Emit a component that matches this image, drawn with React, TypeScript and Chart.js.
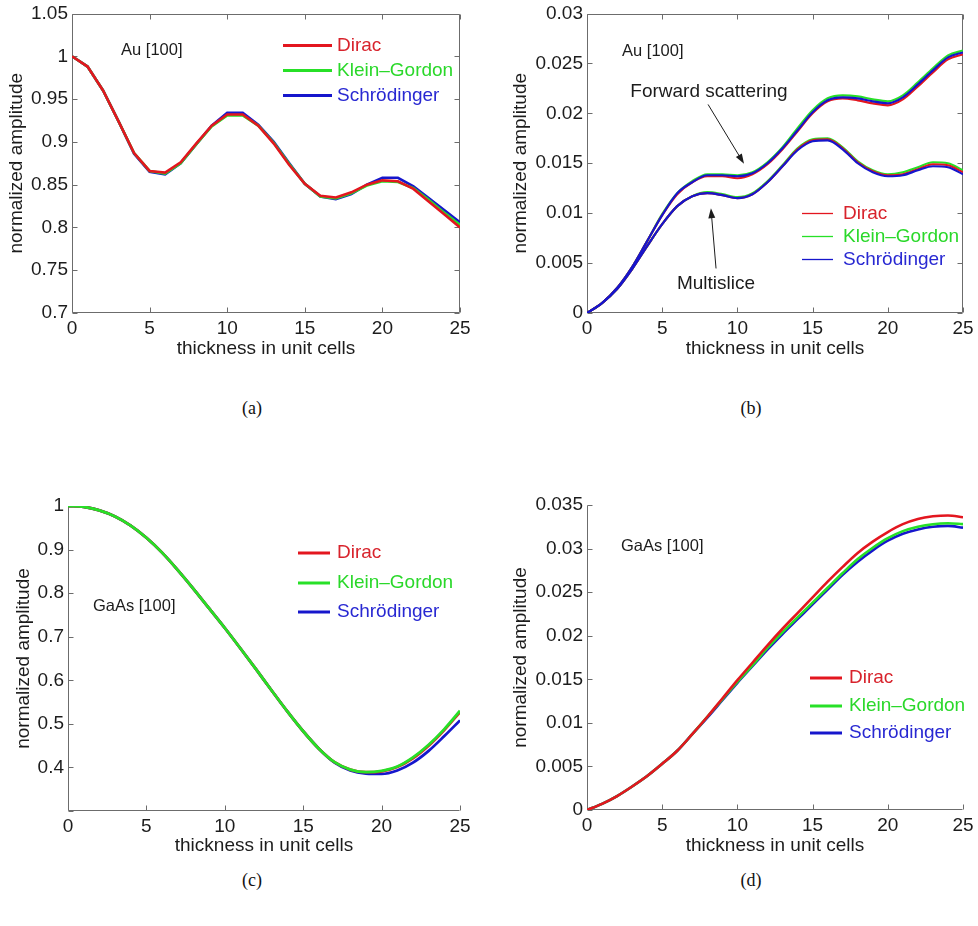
import React, { useEffect, useRef } from 'react';
import { Chart, registerables } from 'chart.js';

Chart.register(...registerables);

const FONT = '"Liberation Sans", Arial, Helvetica, sans-serif';

// ---------------- data ----------------
const THICKNESS = [0, 1, 2, 3, 4, 5, 6, 7, 8, 9, 10, 11, 12, 13, 14, 15, 16, 17, 18, 19, 20, 21, 22, 23, 24, 25];
const LEGEND_LABELS = ['Dirac', 'Klein\u2013Gordon', 'Schr\u00f6dinger'];
const X_TICK_STEP = 5;

// (a) Au [100], central beam
const A_DIRAC = [1.000, 0.988, 0.960, 0.924, 0.887, 0.866, 0.864, 0.876, 0.898, 0.919, 0.932, 0.932, 0.919, 0.898, 0.873, 0.851, 0.837, 0.835, 0.841, 0.850, 0.855, 0.854, 0.845, 0.830, 0.815, 0.800];
const A_KG = [1.000, 0.988, 0.960, 0.924, 0.887, 0.866, 0.863, 0.875, 0.897, 0.918, 0.931, 0.931, 0.919, 0.899, 0.874, 0.851, 0.836, 0.834, 0.840, 0.849, 0.854, 0.853, 0.846, 0.832, 0.817, 0.803];
const A_SCH = [1.000, 0.988, 0.960, 0.924, 0.886, 0.865, 0.862, 0.875, 0.897, 0.919, 0.934, 0.934, 0.920, 0.900, 0.875, 0.851, 0.836, 0.833, 0.839, 0.850, 0.858, 0.858, 0.848, 0.834, 0.820, 0.806];
const A_Y_RANGE = [0.7, 1.05, 0.05];

// (b) Au [100], diffracted beam: forward scattering and multislice
const B_FS_DIRAC = [0, 0.0010, 0.0025, 0.0046, 0.0072, 0.0098, 0.0119, 0.0131, 0.0137, 0.0137, 0.0135, 0.0139, 0.0149, 0.0164, 0.0182, 0.0200, 0.0212, 0.0215, 0.0213, 0.0210, 0.0208, 0.0214, 0.0227, 0.0241, 0.0254, 0.0259];
const B_FS_KG = [0, 0.0010, 0.0025, 0.0046, 0.0072, 0.0099, 0.0120, 0.0132, 0.0139, 0.0139, 0.0138, 0.0141, 0.0151, 0.0166, 0.0185, 0.0203, 0.0215, 0.0218, 0.0217, 0.0214, 0.0212, 0.0218, 0.0231, 0.0245, 0.0258, 0.0263];
const B_FS_SCH = [0, 0.0010, 0.0025, 0.0046, 0.0072, 0.0098, 0.0120, 0.0131, 0.0138, 0.0138, 0.0137, 0.0140, 0.0150, 0.0165, 0.0183, 0.0201, 0.0213, 0.0216, 0.0215, 0.0212, 0.0210, 0.0216, 0.0229, 0.0243, 0.0256, 0.0261];
const B_MS_DIRAC = [0, 0.0010, 0.0024, 0.0044, 0.0067, 0.0089, 0.0107, 0.0117, 0.0120, 0.0118, 0.0115, 0.0119, 0.0131, 0.0147, 0.0164, 0.0173, 0.0174, 0.0165, 0.0151, 0.0142, 0.0138, 0.0139, 0.0144, 0.0149, 0.0148, 0.0141];
const B_MS_KG = [0, 0.0010, 0.0024, 0.0044, 0.0067, 0.0089, 0.0107, 0.0117, 0.0121, 0.0119, 0.0116, 0.0120, 0.0132, 0.0148, 0.0165, 0.0174, 0.0175, 0.0166, 0.0152, 0.0143, 0.0139, 0.0141, 0.0146, 0.0151, 0.0150, 0.0143];
const B_MS_SCH = [0, 0.0010, 0.0024, 0.0044, 0.0067, 0.0089, 0.0107, 0.0117, 0.0120, 0.0118, 0.0115, 0.0119, 0.0131, 0.0147, 0.0163, 0.0172, 0.0173, 0.0164, 0.0150, 0.0141, 0.0137, 0.0138, 0.0143, 0.0147, 0.0146, 0.0139];
const B_Y_RANGE = [0, 0.03, 0.005];

// (c) GaAs [100], central beam
const C_DIRAC = [1.000, 0.998, 0.990, 0.976, 0.955, 0.927, 0.893, 0.853, 0.810, 0.765, 0.720, 0.673, 0.625, 0.576, 0.528, 0.483, 0.443, 0.412, 0.395, 0.389, 0.391, 0.401, 0.421, 0.450, 0.486, 0.527];
const C_KG = [1.000, 0.998, 0.990, 0.976, 0.955, 0.927, 0.893, 0.853, 0.810, 0.765, 0.720, 0.673, 0.625, 0.576, 0.528, 0.483, 0.443, 0.412, 0.395, 0.389, 0.392, 0.402, 0.423, 0.452, 0.488, 0.530];
const C_SCH = [1.000, 0.998, 0.990, 0.976, 0.955, 0.927, 0.893, 0.853, 0.810, 0.765, 0.720, 0.673, 0.625, 0.576, 0.528, 0.483, 0.443, 0.411, 0.393, 0.386, 0.385, 0.393, 0.411, 0.438, 0.472, 0.508];
const C_Y_RANGE = [0.3, 1.0, 0.1];

// (d) GaAs [100], diffracted beam
const D_DIRAC = [0, 0.0007, 0.0016, 0.0027, 0.0039, 0.0053, 0.0068, 0.0087, 0.0107, 0.0128, 0.0149, 0.0169, 0.0189, 0.0208, 0.0226, 0.0244, 0.0262, 0.0279, 0.0295, 0.0308, 0.0319, 0.0328, 0.0334, 0.0337, 0.0338, 0.0336];
const D_KG = [0, 0.0007, 0.0016, 0.0027, 0.0039, 0.0053, 0.0068, 0.0087, 0.0107, 0.0127, 0.0147, 0.0166, 0.0186, 0.0204, 0.0221, 0.0238, 0.0255, 0.0272, 0.0288, 0.0301, 0.0312, 0.0320, 0.0325, 0.0328, 0.0329, 0.0328];
const D_SCH = [0, 0.0007, 0.0016, 0.0027, 0.0039, 0.0053, 0.0068, 0.0087, 0.0106, 0.0126, 0.0146, 0.0165, 0.0184, 0.0202, 0.0219, 0.0236, 0.0253, 0.0270, 0.0285, 0.0298, 0.0309, 0.0317, 0.0322, 0.0325, 0.0326, 0.0324];
const D_Y_RANGE = [0, 0.035, 0.005];

// ---------------- styles ----------------
const RED = '#e3161f';
const GREEN = '#27e027';
const BLUE = '#1616cc';
const TEXT_RED = '#d8232c';
const TEXT_GREEN = '#2ad82a';
const TEXT_BLUE = '#2828d2';
const AXIS_COLOR = '#6c6c6c';
const INK = '#1c1c1c';

const pts = (ys: number[]) => ys.map((y, i) => ({ x: THICKNESS[i], y }));
const fmt = (v: number) => String(+Number(v).toFixed(4));

type Series = { label: string; values: number[]; color: string };

const matlabPlugin = {
  id: 'matlab',
  beforeDatasetsDraw(chart: any, _a: any, opts: any) {
    const { ctx, chartArea: ca, scales } = chart;
    const x = scales.x, y = scales.y;
    const L = opts.tickLen || 5;
    ctx.save();
    ctx.strokeStyle = AXIS_COLOR;
    ctx.lineWidth = 1;
    ctx.beginPath();
    const l = Math.round(ca.left) + 0.5, r = Math.round(ca.right) - 0.5;
    const t = Math.round(ca.top) + 0.5, b = Math.round(ca.bottom) - 0.5;
    ctx.moveTo(l, t);
    ctx.lineTo(l, b);
    ctx.lineTo(r, b);
    if (opts.box) {
      ctx.lineTo(r, t);
      ctx.lineTo(l, t);
    }
    x.ticks.forEach((tk: any) => {
      const px = Math.round(x.getPixelForValue(tk.value)) + 0.5;
      ctx.moveTo(px, b);
      ctx.lineTo(px, b - L);
      if (opts.box) {
        ctx.moveTo(px, t);
        ctx.lineTo(px, t + L);
      }
    });
    y.ticks.forEach((tk: any) => {
      const py = Math.round(y.getPixelForValue(tk.value)) + 0.5;
      ctx.moveTo(l, py);
      ctx.lineTo(l + L, py);
      if (opts.box) {
        ctx.moveTo(r, py);
        ctx.lineTo(r - L, py);
      }
    });
    ctx.stroke();
    ctx.restore();
  },
  afterDatasetsDraw(chart: any, _a: any, opts: any) {
    const { ctx, chartArea: ca, scales } = chart;
    const x = scales.x, y = scales.y;
    ctx.save();
    // legend
    const lg = opts.legend;
    if (lg) {
      lg.items.forEach((it: any, i: number) => {
        const py = ca.top + lg.rows[i];
        ctx.strokeStyle = it.color;
        ctx.lineWidth = lg.lineWidth;
        ctx.beginPath();
        ctx.moveTo(ca.left + lg.x0, py);
        ctx.lineTo(ca.left + lg.x1, py);
        ctx.stroke();
        ctx.fillStyle = it.textColor;
        ctx.font = `${lg.fontSize}px ${FONT}`;
        ctx.textAlign = 'left';
        ctx.textBaseline = 'middle';
        ctx.fillText(it.label, ca.left + lg.textX, py);
      });
    }
    // notes
    (opts.notes || []).forEach((n: any) => {
      ctx.fillStyle = INK;
      ctx.font = `${n.size}px ${FONT}`;
      ctx.textAlign = n.align || 'left';
      ctx.textBaseline = 'middle';
      ctx.fillText(n.text, x.getPixelForValue(n.x), y.getPixelForValue(n.y));
    });
    // arrows
    (opts.arrows || []).forEach((a: any) => {
      const x1 = x.getPixelForValue(a.from[0]), y1 = y.getPixelForValue(a.from[1]);
      const x2 = x.getPixelForValue(a.to[0]), y2 = y.getPixelForValue(a.to[1]);
      const ang = Math.atan2(y2 - y1, x2 - x1);
      const hl = 10, hw = 3.5;
      ctx.strokeStyle = INK;
      ctx.fillStyle = INK;
      ctx.lineWidth = 1;
      ctx.beginPath();
      ctx.moveTo(x1, y1);
      ctx.lineTo(x2 - Math.cos(ang) * hl * 0.8, y2 - Math.sin(ang) * hl * 0.8);
      ctx.stroke();
      ctx.beginPath();
      ctx.moveTo(x2, y2);
      ctx.lineTo(x2 - Math.cos(ang) * hl - Math.sin(ang) * hw, y2 - Math.sin(ang) * hl + Math.cos(ang) * hw);
      ctx.lineTo(x2 - Math.cos(ang) * hl + Math.sin(ang) * hw, y2 - Math.sin(ang) * hl - Math.cos(ang) * hw);
      ctx.closePath();
      ctx.fill();
    });
    ctx.restore();
  },
};

type PanelSpec = {
  left: number; top: number; width: number; height: number;
  pad: { top: number; right: number };
  yWidth: number; xHeight: number; yTitlePad: number;
  yRange: number[]; hideYTick?: number;
  series: Series[]; lineWidth: number; tension: number;
  box: boolean;
  legend: any; notes: any[]; arrows?: any[];
};

function buildConfig(p: PanelSpec): any {
  return {
    type: 'line',
    data: {
      datasets: p.series.map((s) => ({
        label: s.label,
        data: pts(s.values),
        borderColor: s.color,
        backgroundColor: s.color,
        borderWidth: p.lineWidth,
        pointRadius: 0,
        fill: false,
        tension: p.tension,
        cubicInterpolationMode: p.tension > 0 ? 'monotone' : 'default',
      })),
    },
    options: {
      responsive: false,
      animation: false,
      devicePixelRatio: 1,
      events: [],
      layout: { padding: { left: 0, top: p.pad.top, right: p.pad.right, bottom: 0 } },
      plugins: {
        legend: { display: false },
        tooltip: { enabled: false },
        matlab: { box: p.box, tickLen: 5, legend: p.legend, notes: p.notes, arrows: p.arrows || [] },
      },
      scales: {
        x: {
          type: 'linear',
          min: THICKNESS[0],
          max: THICKNESS[THICKNESS.length - 1],
          grid: { display: false, drawTicks: false },
          border: { display: false },
          ticks: {
            stepSize: X_TICK_STEP,
            padding: 4,
            color: INK,
            maxRotation: 0,
            font: { family: FONT, size: 19, lineHeight: 1.2 },
            callback: (v: number) => fmt(v),
          },
          title: {
            display: true,
            text: 'thickness in unit cells',
            color: INK,
            font: { family: FONT, size: 19, lineHeight: 1 },
            padding: { top: 0, bottom: 0 },
          },
          afterFit: (s: any) => { s.height = p.xHeight; },
        },
        y: {
          type: 'linear',
          min: p.yRange[0],
          max: p.yRange[1],
          grid: { display: false, drawTicks: false },
          border: { display: false },
          ticks: {
            stepSize: p.yRange[2],
            padding: 4,
            color: INK,
            font: { family: FONT, size: 19, lineHeight: 1 },
            callback: (v: number) =>
              p.hideYTick !== undefined && Math.abs(v - p.hideYTick) < 1e-9 ? '' : fmt(v),
          },
          title: {
            display: true,
            text: 'normalized amplitude',
            color: INK,
            font: { family: FONT, size: 19, lineHeight: 1 },
            padding: { top: p.yTitlePad, bottom: 0 },
          },
          afterFit: (s: any) => { s.width = p.yWidth; },
        },
      },
    },
    plugins: [matlabPlugin],
  };
}

const legendItems = (lineColors: string[]) =>
  LEGEND_LABELS.map((label, i) => ({
    label,
    color: lineColors[i],
    textColor: [TEXT_RED, TEXT_GREEN, TEXT_BLUE][i],
  }));

const PANELS: PanelSpec[] = [
  {
    left: 0, top: 0, width: 489, height: 358,
    pad: { top: 10, right: 29 }, yWidth: 72, xHeight: 45, yTitlePad: 7.5,
    yRange: A_Y_RANGE,
    series: [
      { label: LEGEND_LABELS[0], values: A_DIRAC, color: RED },
      { label: LEGEND_LABELS[1], values: A_KG, color: GREEN },
      { label: LEGEND_LABELS[2], values: A_SCH, color: BLUE },
    ],
    lineWidth: 2.6, tension: 0, box: true,
    legend: { items: legendItems([RED, GREEN, BLUE]), x0: 211, x1: 260, textX: 265, rows: [32, 57, 82], lineWidth: 3, fontSize: 19 },
    notes: [{ text: 'Au [100]', x: 3.16, y: 1.0073, size: 16.5 }],
  },
  {
    left: 489, top: 0, width: 489, height: 358,
    pad: { top: 10, right: 15 }, yWidth: 98, xHeight: 45, yTitlePad: 22.5,
    yRange: B_Y_RANGE,
    series: [
      { label: LEGEND_LABELS[2], values: B_FS_SCH, color: BLUE },
      { label: LEGEND_LABELS[2], values: B_MS_SCH, color: BLUE },
      { label: LEGEND_LABELS[0], values: B_FS_DIRAC, color: RED },
      { label: LEGEND_LABELS[0], values: B_MS_DIRAC, color: RED },
      { label: LEGEND_LABELS[1], values: B_FS_KG, color: GREEN },
      { label: LEGEND_LABELS[1], values: B_MS_KG, color: GREEN },
    ],
    lineWidth: 2.2, tension: 0.4, box: true,
    legend: { items: legendItems([RED, GREEN, BLUE]), x0: 215, x1: 246, textX: 256, rows: [200, 223, 246], lineWidth: 1.3, fontSize: 19 },
    notes: [
      { text: 'Au [100]', x: 2.33, y: 0.02624, size: 16.5 },
      { text: 'Forward scattering', x: 8.11, y: 0.02218, size: 19, align: 'center' },
      { text: 'Multislice', x: 8.58, y: 0.00297, size: 19, align: 'center' },
    ],
    arrows: [
      { from: [8.05, 0.02089], to: [10.44, 0.01495] },
      { from: [8.58, 0.00446], to: [8.24, 0.0105] },
    ],
  },
  {
    left: 0, top: 480, width: 489, height: 375,
    pad: { top: 26, right: 29 }, yWidth: 68, xHeight: 44, yTitlePad: 14.5,
    yRange: C_Y_RANGE, hideYTick: C_Y_RANGE[0],
    series: [
      { label: LEGEND_LABELS[1], values: C_KG, color: GREEN },
      { label: LEGEND_LABELS[0], values: C_DIRAC, color: RED },
      { label: LEGEND_LABELS[2], values: C_SCH, color: BLUE },
    ],
    lineWidth: 2.8, tension: 0.4, box: false,
    legend: { items: legendItems([RED, GREEN, BLUE]), x0: 230, x1: 262, textX: 269, rows: [47, 77, 106], lineWidth: 3, fontSize: 19 },
    notes: [{ text: 'GaAs [100]', x: 1.59, y: 0.7705, size: 16.5 }],
  },
  {
    left: 489, top: 480, width: 489, height: 375,
    pad: { top: 25, right: 15 }, yWidth: 98, xHeight: 45, yTitlePad: 22.5,
    yRange: D_Y_RANGE,
    series: [
      { label: LEGEND_LABELS[0], values: D_DIRAC, color: RED },
      { label: LEGEND_LABELS[1], values: D_KG, color: GREEN },
      { label: LEGEND_LABELS[2], values: D_SCH, color: BLUE },
    ],
    lineWidth: 2.6, tension: 0.4, box: false,
    legend: { items: legendItems([RED, GREEN, BLUE]), x0: 223, x1: 255, textX: 262, rows: [173, 201, 228], lineWidth: 3, fontSize: 19 },
    notes: [{ text: 'GaAs [100]', x: 2.26, y: 0.0303, size: 16.5 }],
  },
];

const CAPTIONS = [
  { text: '(a)', x: 252, y: 408 },
  { text: '(b)', x: 751, y: 408 },
  { text: '(c)', x: 252, y: 880 },
  { text: '(d)', x: 751, y: 880 },
];

function Panel({ spec }: { spec: PanelSpec }) {
  const ref = useRef<HTMLCanvasElement>(null);
  useEffect(() => {
    const chart = new Chart(ref.current as HTMLCanvasElement, buildConfig(spec));
    return () => chart.destroy();
  }, [spec]);
  return (
    <canvas
      ref={ref}
      width={spec.width}
      height={spec.height}
      style={{ position: 'absolute', left: spec.left, top: spec.top, width: spec.width, height: spec.height, display: 'block' }}
    />
  );
}

export default function App() {
  return (
    <div style={{ position: 'absolute', left: 0, top: 0, width: 978, height: 926, background: '#fff', overflow: 'hidden' }}>
      {PANELS.map((p, i) => (
        <Panel key={i} spec={p} />
      ))}
      {CAPTIONS.map((c) => (
        <div
          key={c.text}
          style={{
            position: 'absolute',
            left: c.x - 30,
            top: c.y - 12,
            width: 60,
            height: 24,
            lineHeight: '24px',
            textAlign: 'center',
            fontFamily: '"Liberation Serif", "DejaVu Serif", serif',
            fontSize: 18,
            color: '#111',
          }}
        >
          {c.text}
        </div>
      ))}
    </div>
  );
}
